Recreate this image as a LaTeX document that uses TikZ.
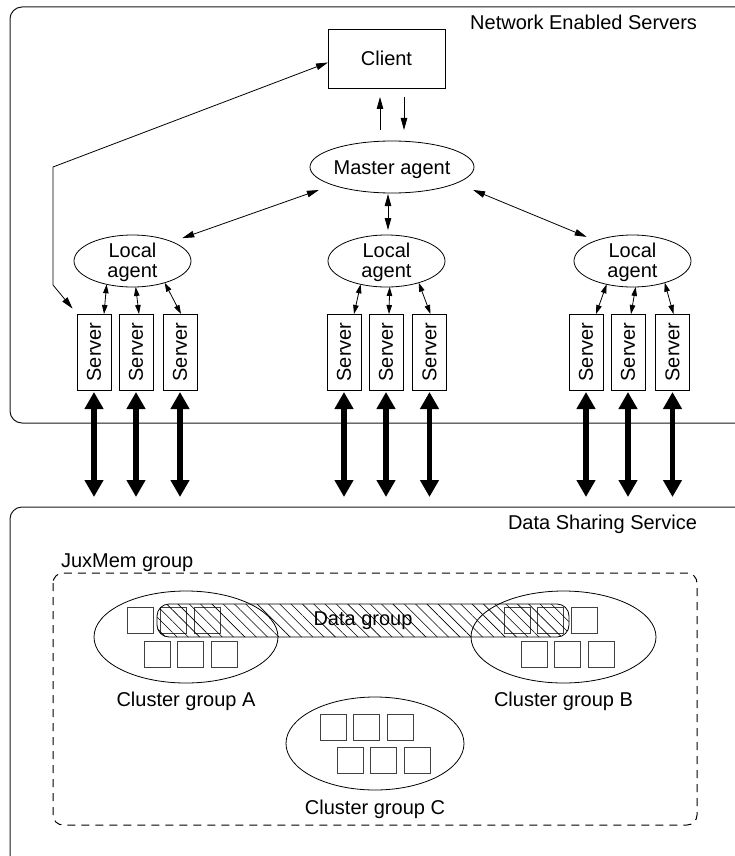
\documentclass[tikz,border=0pt]{standalone}
\usepackage{fontspec}
\setmainfont{Liberation Sans}
\usetikzlibrary{shapes.geometric,arrows.meta,patterns.meta,calc}
\tikzset{
  tipA/.tip={Triangle[length=12pt,width=6.5pt]},
  tipS/.tip={Triangle[length=9pt,width=5.5pt]},
  tipB/.tip={Triangle[length=17pt,width=18pt]},
}
\begin{document}
\begin{tikzpicture}[x=1pt,y=-1pt,
  every node/.style={font=\fontsize{20}{20}\selectfont, inner sep=0pt, outer sep=0pt},
  frame/.style={draw=black!90, line width=1pt, rounded corners=12pt},
  dashframe/.style={draw=black, line width=1pt, dash pattern=on 8pt off 6pt, rounded corners=10pt},
  clientbox/.style={draw, line width=0.8pt, minimum width=117pt, minimum height=59pt},
  agent/.style={draw, line width=0.8pt, ellipse, minimum width=117pt, minimum height=52pt},
  masteragent/.style={agent, minimum width=164pt},
  srv/.style={draw, line width=0.8pt, minimum width=34pt, minimum height=76pt},
  cluster/.style={draw, line width=0.8pt, ellipse, minimum height=92pt},
  sq/.style={draw=black!75, line width=0.8pt, minimum size=26pt},
  datagrp/.style={draw, line width=0.8pt, rounded corners=12pt, minimum width=412pt, minimum height=33pt,
    pattern={Lines[angle=-45,distance=8pt,line width=0.6pt]}},
  arr/.style={line width=0.8pt, -tipA},
  darr/.style={line width=0.8pt, tipA-tipA},
  sarr/.style={line width=0.8pt, tipS-tipS},
  bigarr/.style={line width=5.5pt, tipB-tipB},
]
\useasboundingbox (0,0) rectangle (735,856);
\clip (0,0) rectangle (735,856);

% frames
\draw[frame] (10,7) rectangle (770,423);
\draw[frame] (10,507) rectangle (770,868);
\coordinate (dsstop) at (10,507);
\node[anchor=base east] (nes) at (697,30) {Network Enabled Servers};
\node[anchor=base east] (dss) at (697,529) {Data Sharing Service};

% top part
\node[clientbox] (cl) at (386.5,58.5) {Client};
\node[masteragent, label={[yshift=-3pt]center:Master agent}] (ma) at (392,167) {};
\node[agent, label={[align=center,yshift=-1pt]center:Local\\agent}] (la) at (132.5,261) {};
\node[agent, label={[align=center,yshift=-1pt]center:Local\\agent}] (lb) at (386.5,261) {};
\node[agent, label={[align=center,yshift=-1pt]center:Local\\agent}] (lc) at (632.5,261) {};

\node[srv] (sa1) at (94,352) {\rotatebox{90}{Server}};
\node[srv] (sa2) at (136,352) {\rotatebox{90}{Server}};
\node[srv] (sa3) at (180,352) {\rotatebox{90}{Server}};
\node[srv] (sb1) at (344,352) {\rotatebox{90}{Server}};
\node[srv] (sb2) at (386,352) {\rotatebox{90}{Server}};
\node[srv] (sb3) at (429.5,352) {\rotatebox{90}{Server}};
\node[srv] (sc1) at (586,352) {\rotatebox{90}{Server}};
\node[srv] (sc2) at (628,352) {\rotatebox{90}{Server}};
\node[srv] (sc3) at (672.5,352) {\rotatebox{90}{Server}};

% client <-> master
\draw[arr] ($(ma.north)+(-12,-11)$) -- ($(cl.south)+(-6.5,9)$);
\draw[arr] ($(cl.south)+(17.5,9)$) -- ($(ma.north)+(12,-11)$);

% master <-> local agents
\draw[darr, shorten <=11pt, shorten >=15pt] (la.26) -- (ma.197);
\draw[darr, shorten <=5pt, shorten >=1pt] ($(lb.north)+(1.5,0)$) -- ($(ma.south)+(-4,0)$);
\draw[darr, shorten <=10pt, shorten >=18pt] (lc.151) -- (ma.346);

% client <-> server
\coordinate (bk1) at (53,167);
\coordinate (bk2) at (53,285);
\draw[darr, shorten <=0pt, shorten >=7pt] ($(cl.west)+(0,4)$) -- (bk1) -- (bk2) -- (sa1.north west);

% local agents <-> servers
\foreach \l/\a/\b/\c in {la/sa1/sa2/sa3, lb/sb1/sb2/sb3, lc/sc1/sc2/sc3}{
  \draw[sarr] (\l.222) -- ($(\a.north)+(10,0)$);
  \draw[sarr] (\l.277) -- ($(\b.north)+(3,0)$);
  \draw[sarr] (\l.326) -- ($(\c.north)+(1,0)$);
}

% thick arrows
\foreach \s in {sa1,sa2,sa3,sb1,sb2,sb3,sc1,sc2,sc3}{
  \draw[bigarr, shorten <=2pt, shorten >=10pt] (\s.south) -- (\s.south |- dsstop);
}

% bottom part
\draw[dashframe] (53,573) rectangle (697,825);
\node[anchor=base west] (jux) at (61,567) {JuxMem group};

\node[cluster, minimum width=184pt] (ca) at (186,637) {};
\node[cluster, minimum width=185pt] (cb) at (563.5,637) {};
\node[cluster, minimum width=178pt, minimum height=93pt] (cc) at (375,743.5) {};

\node[anchor=base] (cal) at ($(ca.south)+(0,23)$) {Cluster group A};
\node[anchor=base] (cbl) at ($(cb.south)+(0,23)$) {Cluster group B};
\node[anchor=base] (ccl) at ($(cc.south)+(0,24)$) {Cluster group C};

% cluster A squares
\node[sq] (a1) at (140,620) {};
\node[sq] (a2) at (173.5,620) {};
\node[sq] (a3) at (207,620) {};
\node[sq] (a4) at (157,654) {};
\node[sq] (a5) at (190.5,654) {};
\node[sq] (a6) at (224,654) {};
% cluster B squares
\node[sq] (b1) at (517,620) {};
\node[sq] (b2) at (550.5,620) {};
\node[sq] (b3) at (584,620) {};
\node[sq] (b4) at (534,654) {};
\node[sq] (b5) at (567.5,654) {};
\node[sq] (b6) at (601,654) {};
% cluster C squares
\node[sq] (c1) at (333,727.5) {};
\node[sq] (c2) at (366.5,727.5) {};
\node[sq] (c3) at (400,727.5) {};
\node[sq] (c4) at (350,760.5) {};
\node[sq] (c5) at (383.5,760.5) {};
\node[sq] (c6) at (417,760.5) {};

% data group
\node[datagrp] (dg) at (363,620.5) {Data group};
\end{tikzpicture}
\end{document}
